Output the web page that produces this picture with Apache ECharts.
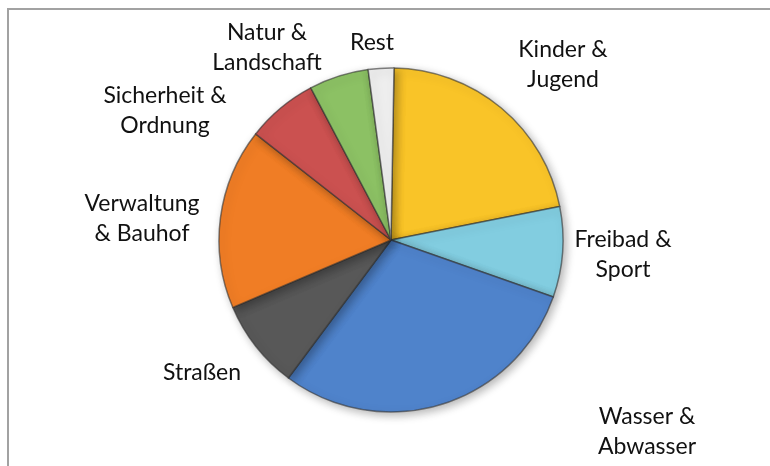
<!DOCTYPE html>
<html>
<head>
<meta charset="utf-8">
<script src="https://cdn.jsdelivr.net/npm/echarts@6/dist/echarts.min.js"></script>
<style>
  html, body { margin: 0; padding: 0; background: #fff; }
  #frame { position: absolute; left: 7px; top: 8px; width: 770px; height: 470px;
           border-left: 2px solid #a2a2a2; border-top: 2px solid #a2a2a2; }
  #chart { position: absolute; left: 0; top: 0; width: 770px; height: 466px; }
</style>
</head>
<body>
<div id="frame"></div>
<div id="chart"></div>
<script>
// Anteile am Haushalt (in %)
const categories = ['Kinder &\nJugend', 'Freibad &\nSport', 'Wasser &\nAbwasser', 'Straßen',
  'Verwaltung\n& Bauhof', 'Sicherheit &\nOrdnung', 'Natur &\nLandschaft', 'Rest']
const values = [21.6, 8.5, 29.8, 8.4, 17.0, 6.7, 5.6, 2.4]
const colors = ['#f9c428', '#82cde0', '#4f83cb', '#585858', '#f07d25', '#cb5150', '#8cc164', '#eeeeee']

// Label-Positionen (Mittelpunkt)
const labelPos = [[563, 65], [623, 255], [647, 432], [202, 373], [142, 219], [165, 111], [267, 48], [372, 43]]

const chart = echarts.init(document.getElementById('chart'))
chart.setOption({
  animation: false,
  series: [{
    type: 'pie',
    center: [391, 240],
    radius: 172,
    startAngle: 89,
    clockwise: true,
    data: categories.map((name, i) => ({
      name: name,
      value: values[i],
      itemStyle: { color: colors[i] }
    })),
    itemStyle: {
      borderColor: 'rgba(50,50,50,0.6)',
      borderWidth: 1.5,
      shadowBlur: 10,
      shadowOffsetX: 3,
      shadowOffsetY: 3,
      shadowColor: 'rgba(0,0,0,0.3)'
    },
    label: {
      show: true,
      position: 'outside',
      color: '#111',
      fontFamily: 'Lato',
      fontSize: 23,
      lineHeight: 30,
      align: 'center'
    },
    labelLine: { show: false },
    labelLayout: function (p) {
      const pos = labelPos[p.dataIndex]
      return { x: pos[0], y: pos[1], align: 'center', verticalAlign: 'middle' }
    }
  }]
})
</script>
</body>
</html>
